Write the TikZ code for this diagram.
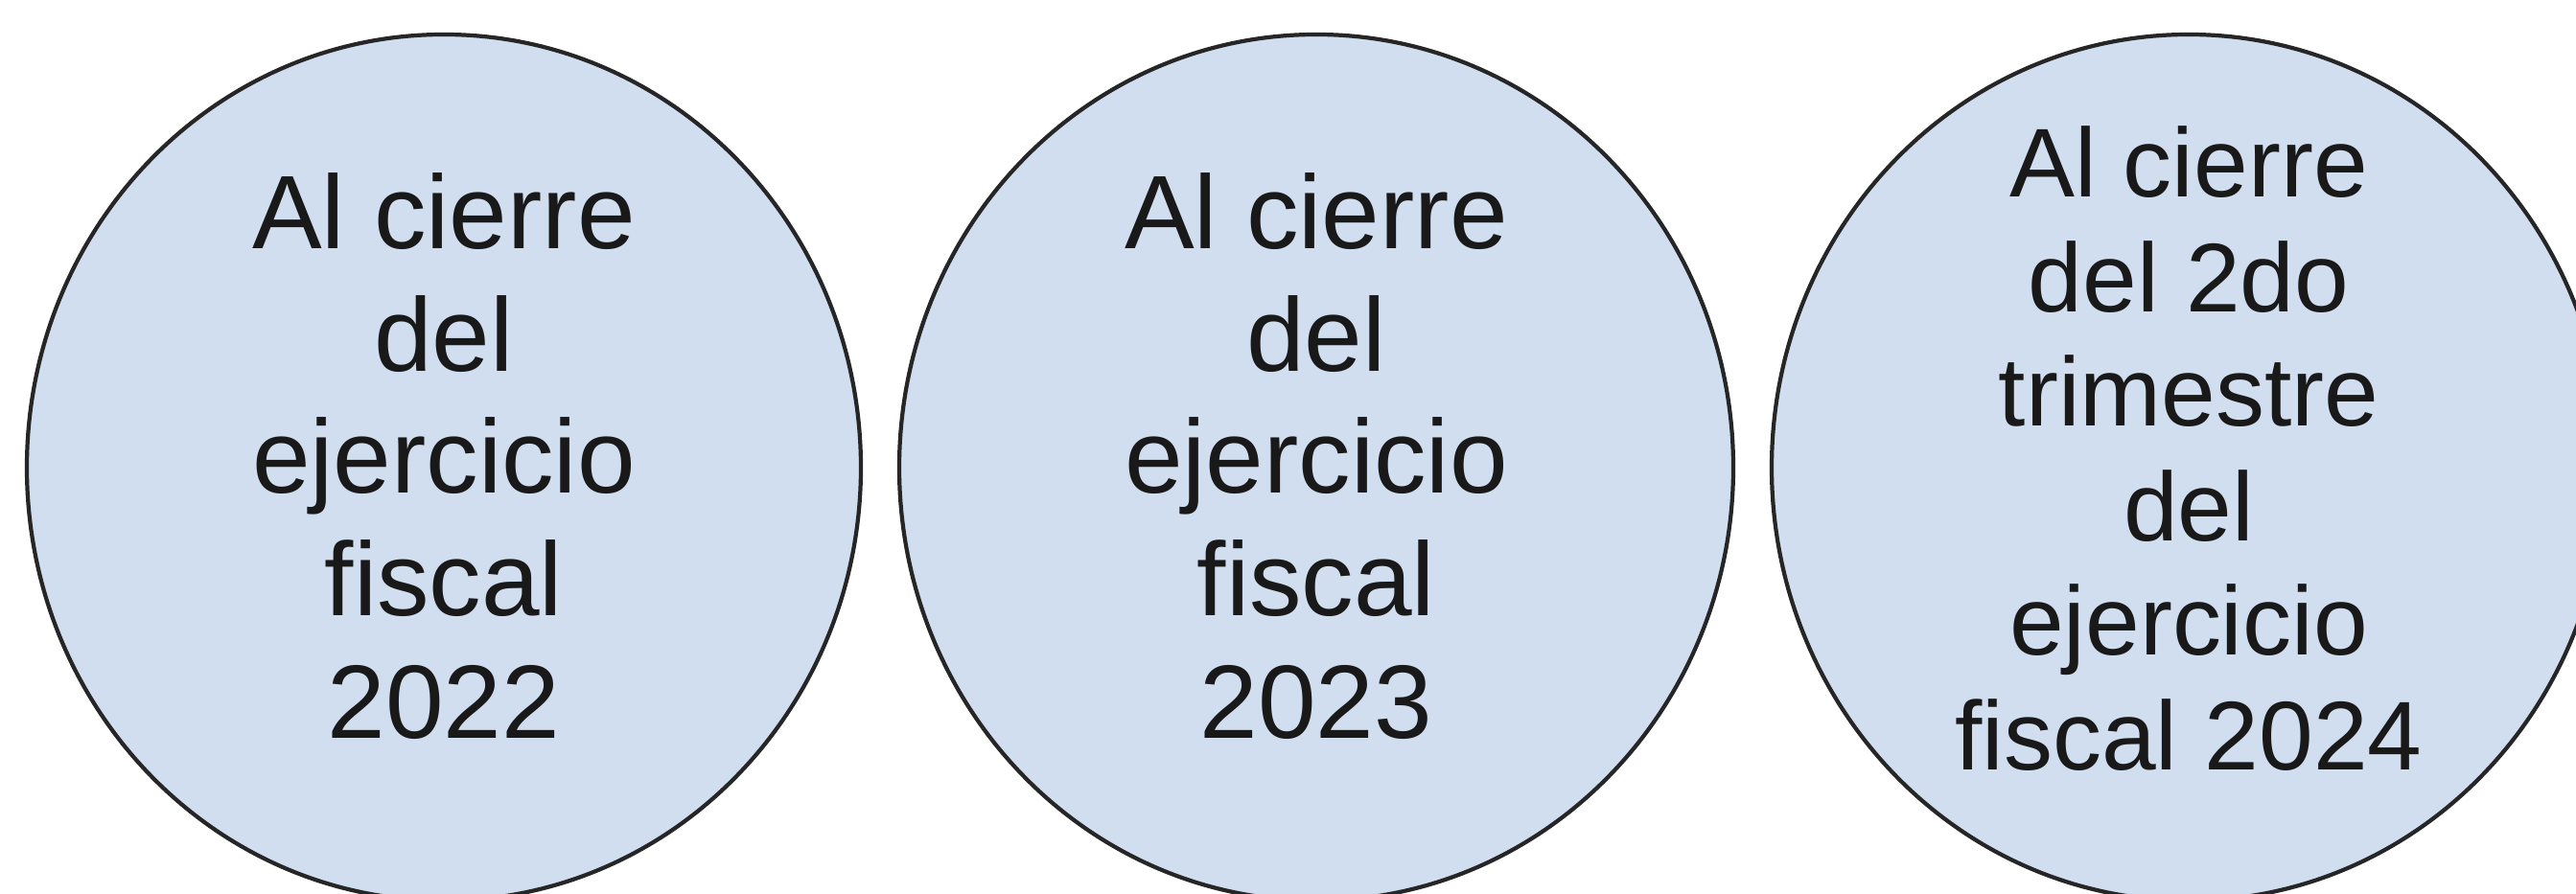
\documentclass[tikz,border=0pt]{standalone}
\usepackage{fontspec}
\setmainfont{Liberation Sans}
\usetikzlibrary{shapes.geometric}
\definecolor{discfill}{HTML}{D0DEF0}

\tikzset{
  disc/.style={ellipse, draw=black!85, line width=1.2pt, fill=discfill,
    minimum width=8.7cm, minimum height=9.04cm, inner sep=0pt},
  disctext/.style={align=center, text=black!90, font=\fontsize{31}{36.4}\selectfont},
  disctextsmall/.style={align=center, text=black!90, font=\fontsize{29}{34}\selectfont}
}

\begin{document}
\begin{tikzpicture}
    \useasboundingbox (0,0) rectangle (26.87,9.33);
    \clip (0,0) rectangle (26.87,9.33);
    % Circles
    \node[disc] (c1) at (4.63,4.45) {};
    \node[disc] (c2) at (13.73,4.45) {};
    \node[disc] (c3) at (22.83,4.45) {};
    % Texts
    \node[disctext, yshift=0.12cm] (t1) at (c1) {Al cierre\\del\\ejercicio\\fiscal\\2022};
    \node[disctext, yshift=0.12cm] (t2) at (c2) {Al cierre\\del\\ejercicio\\fiscal\\2023};
    \node[disctextsmall, yshift=0.2cm] (t3) at (c3) {Al cierre\\del 2do\\trimestre\\del\\ejercicio\\fiscal 2024};
\end{tikzpicture}
\end{document}
